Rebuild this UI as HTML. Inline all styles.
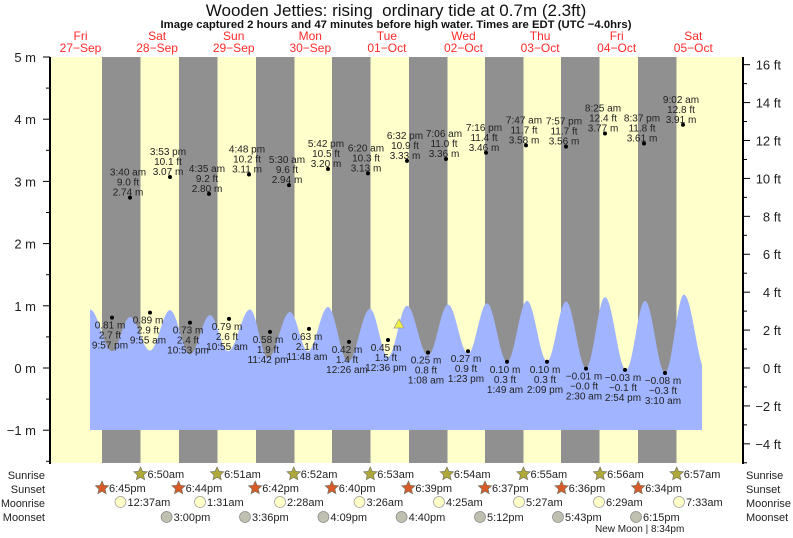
<!DOCTYPE html>
<html><head><meta charset="utf-8"><style>
html,body{margin:0;padding:0;background:#fff;width:793px;height:538px;overflow:hidden}
svg{display:block;font-family:"Liberation Sans",sans-serif}
</style></head><body>
<svg id="s" width="793" height="538" viewBox="0 0 793 538" xmlns="http://www.w3.org/2000/svg">
<rect x="50" y="57" width="693" height="406" fill="#ffffcc"/>
<g id="night" fill="#909090"></g>
<path id="tide" fill="#a0b4ff"/>
<g id="lab" font-size="10" fill="#222" text-anchor="middle"></g>
<polygon points="394,328 404,328 399,319" fill="#f0f040" stroke="#999" stroke-width="0.7"/>
<line x1="50" y1="57" x2="50" y2="464" stroke="#000" stroke-width="2"/>
<line x1="743" y1="57" x2="743" y2="464" stroke="#000" stroke-width="2"/>
<g id="ax" font-size="13" fill="#222"></g>
<text x="396" y="16" font-size="17" text-anchor="middle" fill="#111">Wooden Jetties: rising&#160; ordinary tide at 0.7m (2.3ft)</text>
<text x="396" y="28" font-size="11.3" font-weight="bold" text-anchor="middle" fill="#111">Image captured 2 hours and 47 minutes before high water. Times are EDT (UTC −4.0hrs)</text>
<g id="days" font-size="12" fill="#ff2a2a" text-anchor="middle"></g>
<g id="bot" font-size="11" fill="#222"></g>
<g font-size="11" fill="#222">
<text x="45" y="479" text-anchor="end">Sunrise</text><text x="45" y="493" text-anchor="end">Sunset</text>
<text x="1" y="507" textLength="44" lengthAdjust="spacingAndGlyphs">Moonrise</text><text x="45" y="521" text-anchor="end">Moonset</text>
<text x="746" y="479">Sunrise</text><text x="746" y="493">Sunset</text>
<text x="746" y="507" textLength="45" lengthAdjust="spacingAndGlyphs">Moonrise</text><text x="746" y="521">Moonset</text>
</g>
<text x="595" y="532" font-size="10" fill="#222">New Moon | 8:34pm</text>
</svg>
<script>
const NS="http://www.w3.org/2000/svg";
function el(p,t,a,txt){const e=document.createElementNS(NS,t);for(const k in a)e.setAttribute(k,a[k]);if(txt!==undefined)e.textContent=txt;document.getElementById(p).appendChild(e);return e;}
const Y=m=>368-62.2*m;
[102,179,256,332,409,485,561,638].forEach(x=>el("night","rect",{x:x,y:57,width:38.5,height:406}));
const ex=[[90,.94],[112,.27],[130,.82],[150,.28],[170,.93],[190,.22],[210,.85],[228,.27],[250,.94],[268,.16],[290,.9],[308,.27],[328,.98],[348,.1],[370,.95],[388,.18],[407,1.0],[428,.2],[448,1.02],[468,.23],[487,1.04],[507,.1],[527,1.08],[547,.11],[566,1.07],[586,0],[605,1.14],[626,-.03],[645,1.08],[665,-.08],[684,1.18],[706,-.05]];
let d="M90,430 L90,"+Y(.94);
for(let i=0;i<ex.length-1;i++){const[a,ha]=ex[i],[b,hb]=ex[i+1];for(let x=a+1;x<=b;x++){if(x>702)break;const t=(x-a)/(b-a);const h=ha+(hb-ha)*(1-Math.cos(Math.PI*t))/2;d+=" L"+x+","+Y(h).toFixed(1);}}
d+=" L702,430 Z";document.getElementById("tide").setAttribute("d",d);
const hi=[[130,"3:40 am","9.0 ft",2.74],[170,"3:53 pm","10.1 ft",3.07],[209,"4:35 am","9.2 ft",2.80],[249,"4:48 pm","10.2 ft",3.11],[289,"5:30 am","9.6 ft",2.94],[328,"5:42 pm","10.5 ft",3.20],[368,"6:20 am","10.3 ft",3.13],[407,"6:32 pm","10.9 ft",3.33],[446,"7:06 am","11.0 ft",3.36],[486,"7:16 pm","11.4 ft",3.46],[526,"7:47 am","11.7 ft",3.58],[566,"7:57 pm","11.7 ft",3.56],[605,"8:25 am","12.4 ft",3.77],[644,"8:37 pm","11.8 ft",3.61],[683,"9:02 am","12.8 ft",3.91]];
hi.forEach(([x,t,f,m])=>{const y=Y(m);el("lab","circle",{cx:x,cy:y,r:2,fill:"#000"});el("lab","text",{x:x-2,y:y-22},t);el("lab","text",{x:x-2,y:y-12},f);el("lab","text",{x:x-2,y:y-2},m.toFixed(2)+" m");});
const lo=[[112,.81,"2.7 ft","9:57 pm"],[150,.89,"2.9 ft","9:55 am"],[190,.73,"2.4 ft","10:53 pm"],[229,.79,"2.6 ft","10:55 am"],[270,.58,"1.9 ft","11:42 pm"],[309,.63,"2.1 ft","11:48 am"],[349,.42,"1.4 ft","12:26 am"],[388,.45,"1.5 ft","12:36 pm"],[428,.25,"0.8 ft","1:08 am"],[468,.27,"0.9 ft","1:23 pm"],[507,.10,"0.3 ft","1:49 am"],[547,.10,"0.3 ft","2:09 pm"],[586,-.01,"−0.0 ft","2:30 am"],[625,-.03,"−0.1 ft","2:54 pm"],[665,-.08,"−0.3 ft","3:10 am"]];
lo.forEach(([x,m,f,t])=>{const y=Y(m);el("lab","circle",{cx:x,cy:y,r:2,fill:"#000"});el("lab","text",{x:x-2,y:y+11},(m<0?"−":"")+Math.abs(m).toFixed(2)+" m");el("lab","text",{x:x-2,y:y+21},f);el("lab","text",{x:x-2,y:y+31},t);});
for(let m=-1.5;m<=5;m+=0.5){const y=Y(m);const maj=Number.isInteger(m);el("ax","line",{x1:maj?43:46,y1:y,x2:50,y2:y,stroke:"#000"});if(maj)el("ax","text",{x:36,y:y+5,"text-anchor":"end"},(m<0?"−":"")+Math.abs(m)+" m");}
for(let f=-5;f<=16;f++){const y=368-f*0.3048*62.2;if(y<57)continue;const maj=f%2==0;el("ax","line",{x1:743,y1:y,x2:maj?750:747,y2:y,stroke:"#000"});if(maj)el("ax","text",{x:781,y:y+5,"text-anchor":"end"},(f<0?"−":"")+Math.abs(f)+" ft");}
const dn=[["Fri","27−Sep"],["Sat","28−Sep"],["Sun","29−Sep"],["Mon","30−Sep"],["Tue","01−Oct"],["Wed","02−Oct"],["Thu","03−Oct"],["Fri","04−Oct"],["Sat","05−Oct"]];
dn.forEach(([a,b],i)=>{const x=80.5+i*76.6;el("days","text",{x:x,y:40},a);el("days","text",{x:x,y:52},b);});
function star(x,y,c){let p="";for(let i=0;i<10;i++){const r=i%2?3.3:7,a=-Math.PI/2+i*Math.PI/5;p+=(x+r*Math.cos(a)).toFixed(1)+","+(y+r*Math.sin(a)).toFixed(1)+" ";}el("bot","polygon",{points:p,fill:c,stroke:"#776","stroke-width":0.7});}
["6:50am","6:51am","6:52am","6:53am","6:54am","6:55am","6:56am","6:57am"].forEach((t,i)=>{const x=140.5+i*76.6;star(x,474,"#b0a838");el("bot","text",{x:x+7,y:478},t);});
["6:45pm","6:44pm","6:42pm","6:40pm","6:39pm","6:37pm","6:36pm","6:34pm"].forEach((t,i)=>{const x=102+i*76.6;star(x,488,"#d85a28");el("bot","text",{x:x+7,y:492},t);});
[[120.5,"12:37am"],[200,"1:31am"],[280,"2:28am"],[359.5,"3:26am"],[439,"4:25am"],[519,"5:27am"],[599,"6:29am"],[679,"7:33am"]].forEach(([x,t])=>{el("bot","circle",{cx:x,cy:502,r:5.5,fill:"#ffffc8",stroke:"#999","stroke-width":0.7});el("bot","text",{x:x+7,y:506},t);});
[[166.6,"3:00pm"],[245,"3:36pm"],[323.4,"4:09pm"],[401.6,"4:40pm"],[480,"5:12pm"],[558,"5:43pm"],[636,"6:15pm"]].forEach(([x,t])=>{el("bot","circle",{cx:x,cy:517,r:5.5,fill:"#c0c0b0",stroke:"#888","stroke-width":0.7});el("bot","text",{x:x+7,y:521},t);});
</script>
</body></html>
